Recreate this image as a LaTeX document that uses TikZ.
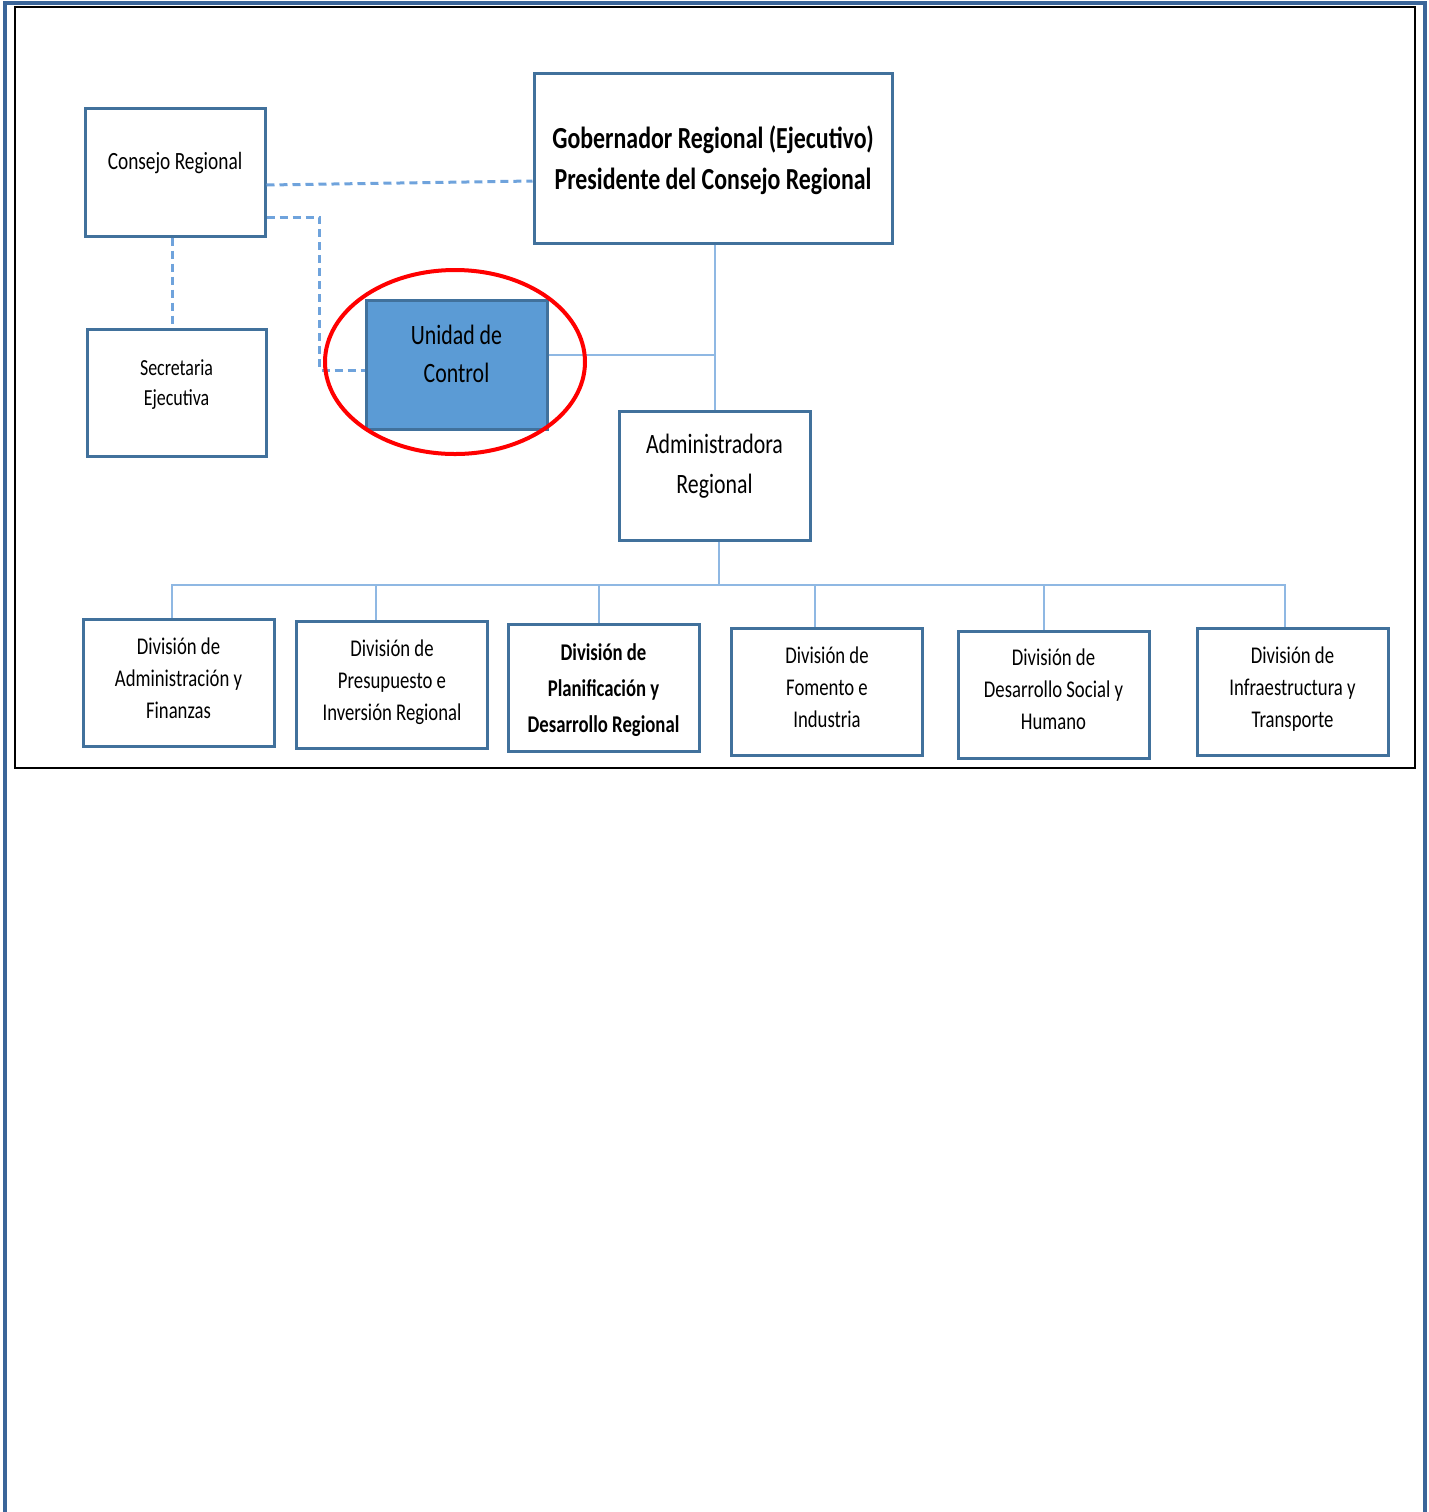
\documentclass[tikz,border=0pt]{standalone}
\usepackage{fontspec}
\setmainfont{Carlito}[FakeStretch=0.78]
\usepackage{tikz}
\definecolor{bd}{HTML}{41719C}
\definecolor{fr}{HTML}{3A6599}
\definecolor{ln}{HTML}{8FB8E3}
\definecolor{dl}{HTML}{6FA3DC}
\definecolor{fl}{HTML}{5B9BD5}
\definecolor{rd}{HTML}{FF0000}

\tikzset{
  box/.style   = {draw=bd, line width=1.5pt, fill=white, inner sep=0pt, align=center},
  divbox/.style= {box, minimum width=95.5pt, minimum height=63.5pt,
                  font=\fontsize{12}{16}\selectfont},
  link/.style  = {draw=ln, line width=1pt},
  dlink/.style = {draw=dl, line width=1.5pt, dash pattern=on 4pt off 2.5pt},
}

\begin{document}
\begin{tikzpicture}[x=0.5pt, y=-0.5pt]
  \useasboundingbox (0,0) rectangle (1429,1512);
  % frames
  \draw[fr, line width=2pt] (5,1512) -- (5,3) -- (1425,3) -- (1425,1512);
  \draw[black, line width=1pt] (15,7) rectangle (1415,768);

  % top level
  \node[box, minimum width=90pt, minimum height=64pt, text depth=11pt,
        font=\fontsize{12.4}{15}\selectfont] (consejo) at (175,172) {Consejo Regional};
  \node[box, minimum width=179pt, minimum height=85pt, text depth=0pt,
        font=\bfseries\fontsize{15.3}{20.5}\selectfont] (gob) at (713,158)
        {Gobernador Regional (Ejecutivo)\\Presidente del Consejo Regional};
  \node[box, minimum width=89.5pt, minimum height=63.5pt, text depth=10pt,
        font=\fontsize{11.5}{15}\selectfont] (secre) at (176.5,392.5) {Secretaria\\Ejecutiva};
  \node[box, fill=fl, minimum width=90.5pt, minimum height=64.5pt, text depth=10.5pt,
        font=\fontsize{14}{19}\selectfont] (unidad) at (456.5,364.5) {Unidad de\\Control};
  \node[box, minimum width=95.5pt, minimum height=64.5pt, text depth=11.5pt,
        font=\fontsize{14}{20}\selectfont] (admin) at (714.5,475.5) {Administradora\\Regional};

  % divisions
  \node[divbox, text depth=4pt] (diva) at (178.5,682.5) {División de\\Administración y\\Finanzas};
  \node[divbox, text depth=4pt] (divb) at (392,684.5) {División de\\Presupuesto e\\Inversión Regional};
  \node[divbox, text depth=0pt, font=\bfseries\fontsize{12}{18}\selectfont] (divc) at (603.5,688)
        {División de\\Planificación y\\Desarrollo Regional};
  \node[divbox, text depth=5pt] (divd) at (827,692) {División de\\Fomento e\\Industria};
  \node[divbox, text depth=5pt] (dive) at (1053.5,694.5) {División de\\Desarrollo Social y\\Humano};
  \node[divbox, text depth=5pt] (divf) at (1292.5,692) {División de\\Infraestructura y\\Transporte};

  % dashed links from the council
  \draw[dlink] ([yshift=-6.5pt]consejo.east) -- ([yshift=-11.5pt]gob.west);
  \draw[dlink] ([yshift=-22.5pt]consejo.east) -- ++(53,0) |- ([yshift=-2.75pt]unidad.west);
  \draw[dlink] ([xshift=-1.5pt]consejo.south) -- ([xshift=-1.5pt]consejo.south |- secre.north);

  % solid links
  \draw[link] (admin.north |- gob.south) -- (admin.north);
  \draw[link] ([yshift=4.75pt]unidad.east) -- ([yshift=4.75pt]unidad.east -| admin.north);
  \draw[link] ([xshift=2.25pt]admin.south) -- ++(0,43) coordinate (bus);
  \foreach \d/\s in {diva/-3.25pt, divb/-8pt, divc/-2.25pt, divd/-6pt, dive/-4.75pt, divf/-3.75pt}
    \draw[link] (bus) -| ([xshift=\s]\d.north);

  % highlight
  \draw[rd, line width=2pt] (455,362) ellipse [x radius=130, y radius=92];
\end{tikzpicture}
\end{document}
